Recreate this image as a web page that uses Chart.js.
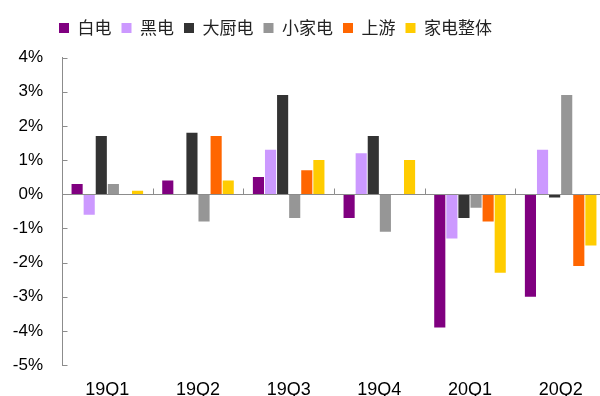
<!DOCTYPE html>
<html>
<head>
<meta charset="utf-8">
<script src="https://cdn.jsdelivr.net/npm/chart.js@4/dist/chart.umd.min.js"></script>
<style>
  html, body { margin: 0; padding: 0; background: #fff; overflow: hidden; }
  #wrap { width: 606px; height: 396px; }
</style>
</head>
<body>
<div id="wrap"><canvas id="c" width="606" height="396"></canvas></div>
<script>
// Quarterly change by segment (percentage points)
const categories = ['19Q1', '19Q2', '19Q3', '19Q4', '20Q1', '20Q2'];
const baiDian = [0.3, 0.4, 0.5, -0.7, -3.9, -3.0];      // 白电
const heiDian = [-0.6, 0.0, 1.3, 1.2, -1.3, 1.3];       // 黑电
const daChuDian = [1.7, 1.8, 2.9, 1.7, -0.7, -0.1];     // 大厨电
const xiaoJiaDian = [0.3, -0.8, -0.7, -1.1, -0.4, 2.9]; // 小家电
const shangYou = [0.0, 1.7, 0.7, 0.0, -0.8, -2.1];      // 上游
const zhengTi = [0.1, 0.4, 1.0, 1.0, -2.3, -1.5];       // 家电整体
const yTicks = [-5, -4, -3, -2, -1, 0, 1, 2, 3, 4];

const seriesNames = ['白电', '黑电', '大厨电', '小家电', '上游', '家电整体'];
const seriesData = [baiDian, heiDian, daChuDian, xiaoJiaDian, shangYou, zhengTi];
const seriesColors = ['#800080', '#CC99FF', '#333333', '#969696', '#FF6600', '#FFCC00'];

const AXIS = '#8c8c8c';
const LEGEND_SHIFT_X = 49;   // legend starts right of the value labels
const LEGEND_SHIFT_Y = -11;  // legend sits higher than the plot's top padding

// Moves the legend box after layout so the plot area keeps its own padding
const legendOffset = {
  id: 'legendOffset',
  afterLayout(chart) {
    const lg = chart.legend;
    if (!lg) return;
    lg.left += LEGEND_SHIFT_X;
    lg.top += LEGEND_SHIFT_Y;
    lg.bottom += LEGEND_SHIFT_Y;
  }
};

// Inward tick marks on the value axis, zero line and short category marks
const axisMarks = {
  id: 'axisMarks',
  afterDatasetsDraw(chart) {
    const { ctx, chartArea, scales } = chart;
    const y = scales.y, x = scales.x;
    const left = Math.round(chartArea.left) + 0.5;
    ctx.save();
    ctx.strokeStyle = AXIS;
    ctx.lineWidth = 1;
    ctx.beginPath();
    yTicks.forEach(v => {
      const py = Math.round(y.getPixelForValue(v)) + 0.5;
      ctx.moveTo(left, py);
      ctx.lineTo(left + 5, py);
    });
    const y0 = Math.round(y.getPixelForValue(0)) + 0.5;
    ctx.moveTo(left, y0);
    ctx.lineTo(chartArea.right, y0);
    for (let i = 1; i < categories.length; i++) {
      const px = Math.round((x.getPixelForValue(i - 1) + x.getPixelForValue(i)) / 2) + 0.5;
      ctx.moveTo(px, y0);
      ctx.lineTo(px, y0 - 6);
    }
    ctx.stroke();
    ctx.restore();
  }
};

new Chart(document.getElementById('c'), {
  type: 'bar',
  data: {
    labels: categories,
    datasets: seriesNames.map((name, i) => ({
      label: name,
      data: seriesData[i],
      backgroundColor: seriesColors[i],
      borderWidth: 0,
      categoryPercentage: 0.8,
      barPercentage: 0.92
    }))
  },
  options: {
    responsive: false,
    animation: false,
    devicePixelRatio: 1,
    layout: { padding: { left: 0, right: 0, top: 20.5, bottom: 0 } },
    plugins: {
      legend: {
        position: 'top',
        align: 'start',
        labels: {
          boxWidth: 10,
          boxHeight: 10,
          padding: 10,
          color: '#222',
          font: { family: "'Noto Sans CJK SC', 'Liberation Sans', sans-serif", size: 17 }
        }
      },
      tooltip: { enabled: false }
    },
    scales: {
      x: {
        grid: { display: false, drawTicks: false },
        border: { display: false },
        ticks: {
          color: '#000',
          padding: 14,
          font: { family: "'Liberation Sans', Arial, sans-serif", size: 18 }
        },
        afterFit(scale) { scale.height = 31; }
      },
      y: {
        min: -5,
        max: 4,
        grid: { display: false, drawTicks: false },
        border: { display: true, color: AXIS, width: 1 },
        ticks: {
          stepSize: 1,
          color: '#000',
          padding: 19,
          font: { family: "'Liberation Sans', Arial, sans-serif", size: 17 },
          callback: v => v + '%'
        },
        afterFit(scale) { scale.width = 62; }
      }
    }
  },
  plugins: [legendOffset, axisMarks]
});
</script>
</body>
</html>
